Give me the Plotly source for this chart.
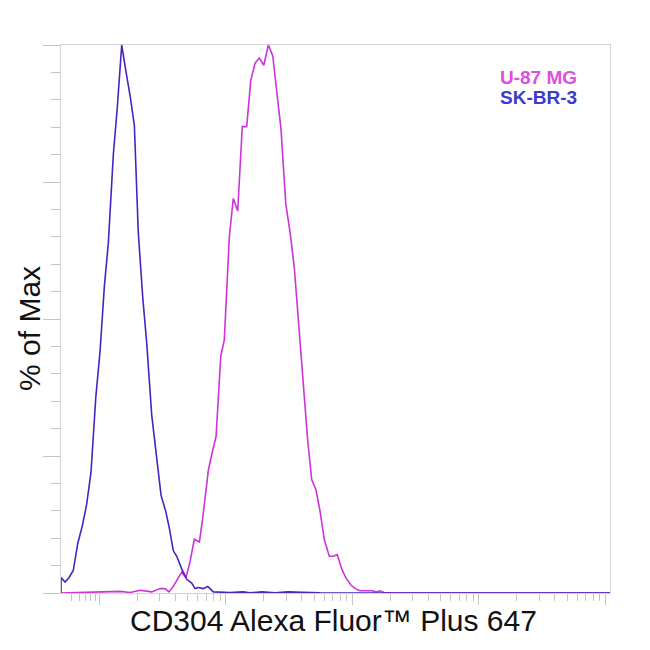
import numpy as np
import plotly.graph_objects as go

# x values are in log10 display units of the (biexponential-like) intensity axis
sk_x = [1.697, 1.697, 1.729, 1.760, 1.794, 1.829, 1.866, 1.900, 1.934, 1.972, 2.006, 2.040, 2.071,
        2.111, 2.142, 2.177, 2.211, 2.245, 2.277, 2.308, 2.343, 2.375, 2.414, 2.454, 2.488,
        2.525, 2.553, 2.585, 2.612, 2.651, 2.691, 2.730, 2.757, 2.783, 2.822, 2.857, 2.901,
        3.033, 3.136, 3.191, 3.286, 3.389, 3.492, 3.603, 3.745, 4.377, 6.037]
sk_y = [0.0, 2.8, 2.0, 2.8, 4.1, 9.0, 12.3, 16.2, 22.0, 35.7, 44.2, 56.0, 63.8,
        80.1, 88.6, 100.0, 95.1, 90.5, 85.3, 65.8, 54.0, 45.5, 32.5, 24.0, 17.8,
        14.9, 11.9, 7.7, 6.7, 4.4, 2.5, 1.8, 0.8, 1.0, 0.8, 1.2, 0.2,
        0.1, 0.2, 0.05, 0.2, 0.05, 0.2, 0.15, 0.05, 0.0, 0.0]

u87_x = [1.697, 1.847, 2.029, 2.164, 2.243, 2.322, 2.414, 2.480, 2.519, 2.551, 2.585, 2.617,
         2.651, 2.685, 2.717, 2.751, 2.791, 2.817, 2.862, 2.889, 2.923, 2.960, 2.988, 3.028,
         3.059, 3.094, 3.130, 3.165, 3.197, 3.231, 3.265, 3.300, 3.336, 3.371, 3.402, 3.436,
         3.474, 3.508, 3.542, 3.573, 3.608, 3.647, 3.679, 3.713, 3.745, 3.779, 3.818, 3.850,
         3.881, 3.916, 3.948, 3.987, 4.029, 4.061, 4.153, 4.187, 4.219, 4.251, 4.324, 6.037]
u87_y = [0.0, 0.05, 0.2, 0.3, 0.1, 0.5, 0.2, 0.8, 0.8, 0.2, 1.2, 2.5,
         3.8, 2.8, 5.7, 9.8, 9.3, 13.6, 22.4, 25.3, 28.6, 43.2, 46.2, 65.1,
         72.0, 69.7, 85.1, 85.1, 93.5, 96.7, 97.6, 96.3, 100.0, 98.0, 91.8, 84.7,
         71.0, 65.8, 59.2, 50.1, 38.4, 27.9, 20.7, 18.8, 14.9, 9.7, 6.7, 6.7,
         7.0, 4.4, 2.8, 1.5, 0.7, 0.4, 0.4, 0.2, 0.4, 0.1, 0.0, 0.0]

series_names = ["U-87 MG", "SK-BR-3"]
series_colors = ["#cc33d8", "#4a22c0"]
label_colors = ["#e04ee0", "#3b3bcc"]

x_title = "CD304 Alexa Fluor™ Plus 647"
y_title = "% of Max"

major_x = [2, 3, 4, 5, 6]
minor_x = [2 - 0.72 * (1 - np.log10(k)) for k in range(5, 10)]
for d in range(2, 6):
    minor_x += [d + np.log10(k) for k in range(2, 10)]

axis_col = "#d4d4d4"
tick_col = "#c4c4c4"
font_fam = "Liberation Sans, Arial, sans-serif"

fig = go.Figure()
fig.add_trace(go.Scatter(x=u87_x, y=u87_y, mode="lines", name=series_names[0],
                         line=dict(color=series_colors[0], width=1.6)))
fig.add_trace(go.Scatter(x=sk_x, y=sk_y, mode="lines", name=series_names[1],
                         line=dict(color=series_colors[1], width=1.6)))

fig.update_layout(
    width=650, height=650,
    margin=dict(l=53, r=48, t=37, b=65, autoexpand=False),
    paper_bgcolor="white", plot_bgcolor="white",
    showlegend=False,
    font=dict(family=font_fam),
    xaxis=dict(range=[1.697, 6.037], showgrid=False, zeroline=False,
               showline=True, linecolor=axis_col, linewidth=1, mirror=True,
               tickmode="array", tickvals=major_x, ticks="outside", ticklen=11,
               tickcolor=tick_col, tickwidth=1, showticklabels=False,
               minor=dict(tickmode="array", tickvals=minor_x, ticks="outside",
                          ticklen=7, tickcolor=tick_col, tickwidth=1, showgrid=False)),
    yaxis=dict(range=[0, 100], showgrid=False, zeroline=False,
               showline=True, linecolor=axis_col, linewidth=1, mirror=True,
               tickmode="array", tickvals=[0, 25, 50, 75, 100], ticks="outside", ticklen=17,
               tickcolor=tick_col, tickwidth=1, showticklabels=False,
               minor=dict(dtick=5, ticks="outside", ticklen=9, tickcolor=tick_col,
                          tickwidth=1, showgrid=False)),
    annotations=[
        dict(text=x_title, xref="paper", yref="paper", x=0.497, y=-0.051,
             xanchor="center", yanchor="middle", showarrow=False,
             font=dict(size=30, color="#111111", family=font_fam)),
        dict(text=y_title, xref="paper", yref="paper", x=-0.0565, y=0.4836,
             xanchor="center", yanchor="middle", showarrow=False, textangle=-90,
             font=dict(size=30, color="#111111", family=font_fam)),
        dict(text="<b>" + series_names[0] + "</b>", xref="paper", yref="paper",
             x=0.9435, y=0.9416, xanchor="right", yanchor="middle", showarrow=False,
             font=dict(size=19, color=label_colors[0], family=font_fam)),
        dict(text="<b>" + series_names[1] + "</b>", xref="paper", yref="paper",
             x=0.9435, y=0.904, xanchor="right", yanchor="middle", showarrow=False,
             font=dict(size=19, color=label_colors[1], family=font_fam)),
    ],
)

fig.write_html("out.html")
